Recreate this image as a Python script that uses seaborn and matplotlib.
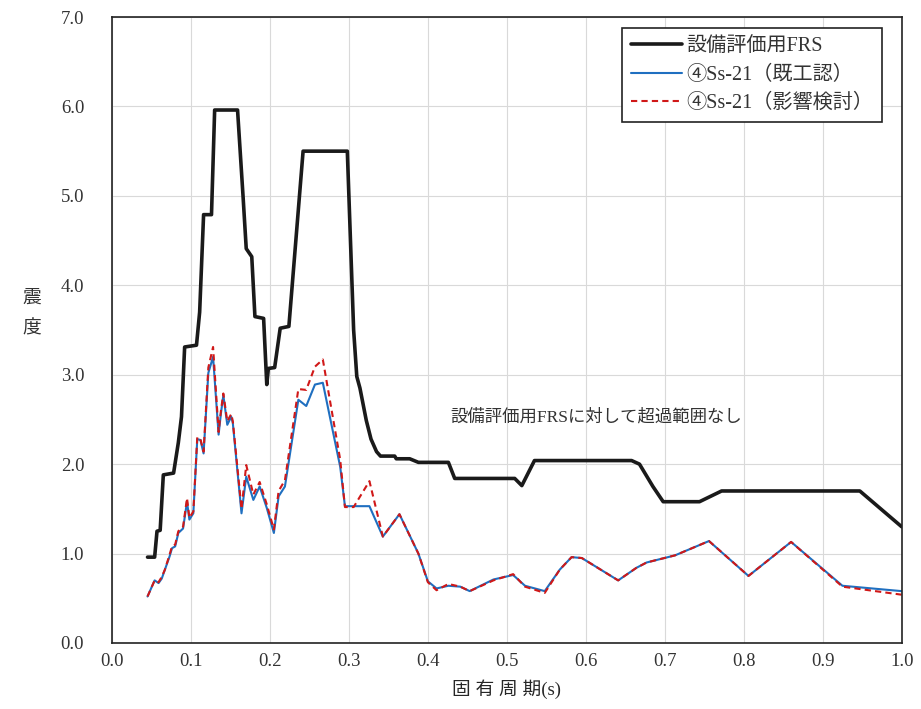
import matplotlib
matplotlib.use("Agg")
import matplotlib.pyplot as plt
import seaborn as sns

# 設備評価用FRS
PERIOD_FRS = [0.045, 0.054, 0.057, 0.061, 0.065, 0.078, 0.084, 0.088, 0.092, 0.107,
              0.111, 0.116, 0.126, 0.130, 0.159, 0.166, 0.170, 0.177, 0.181, 0.192,
              0.196, 0.198, 0.206, 0.213, 0.224, 0.242, 0.298, 0.306, 0.310, 0.314,
              0.322, 0.328, 0.335, 0.340, 0.358, 0.360, 0.377, 0.388, 0.426, 0.434,
              0.510, 0.519, 0.535, 0.658, 0.668, 0.685, 0.698, 0.744, 0.772, 0.947,
              1.000]
FRS = [0.96, 0.96, 1.25, 1.26, 1.88, 1.90, 2.24, 2.53, 3.31, 3.33,
       3.70, 4.79, 4.79, 5.96, 5.96, 4.99, 4.41, 4.32, 3.65, 3.63,
       2.89, 3.07, 3.08, 3.52, 3.54, 5.50, 5.50, 3.50, 2.98, 2.85,
       2.49, 2.28, 2.14, 2.09, 2.09, 2.06, 2.06, 2.02, 2.02, 1.84,
       1.84, 1.76, 2.04, 2.04, 2.00, 1.75, 1.58, 1.58, 1.70, 1.70,
       1.30]

# ④Ss-21 spectra
PERIOD_SS = [0.045, 0.054, 0.059, 0.063, 0.067, 0.073, 0.076, 0.080, 0.084, 0.090,
             0.095, 0.098, 0.103, 0.108, 0.112, 0.116, 0.122, 0.128, 0.135, 0.138,
             0.141, 0.146, 0.151, 0.153, 0.164, 0.170, 0.179, 0.187, 0.196, 0.205,
             0.211, 0.219, 0.236, 0.246, 0.257, 0.267, 0.289, 0.295, 0.306, 0.326,
             0.343, 0.364, 0.388, 0.400, 0.411, 0.426, 0.441, 0.453, 0.483, 0.508,
             0.523, 0.548, 0.567, 0.582, 0.595, 0.641, 0.664, 0.677, 0.713, 0.756,
             0.806, 0.860, 0.925, 1.000]
SS_KIKOUNIN = [0.52, 0.70, 0.67, 0.72, 0.82, 0.97, 1.06, 1.08, 1.23, 1.28,
               1.58, 1.38, 1.45, 2.28, 2.27, 2.12, 3.02, 3.20, 2.33, 2.57,
               2.77, 2.44, 2.53, 2.46, 1.45, 1.86, 1.60, 1.75, 1.51, 1.23,
               1.64, 1.75, 2.72, 2.65, 2.89, 2.91, 1.97, 1.53, 1.53, 1.53,
               1.19, 1.44, 1.00, 0.69, 0.61, 0.64, 0.63, 0.58, 0.71, 0.76,
               0.64, 0.58, 0.82, 0.96, 0.95, 0.70, 0.84, 0.90, 0.98, 1.14,
               0.75, 1.13, 0.64, 0.58]
SS_EIKYOU = [0.52, 0.70, 0.68, 0.74, 0.82, 0.99, 1.08, 1.10, 1.25, 1.30,
             1.62, 1.40, 1.47, 2.30, 2.28, 2.14, 3.08, 3.31, 2.36, 2.60,
             2.79, 2.48, 2.56, 2.48, 1.50, 1.99, 1.66, 1.80, 1.55, 1.27,
             1.70, 1.82, 2.84, 2.83, 3.09, 3.17, 2.05, 1.52, 1.52, 1.81,
             1.19, 1.44, 1.00, 0.68, 0.59, 0.66, 0.63, 0.58, 0.70, 0.77,
             0.63, 0.56, 0.82, 0.96, 0.95, 0.70, 0.84, 0.90, 0.98, 1.14,
             0.75, 1.13, 0.63, 0.54]

LABELS = ["設備評価用FRS", "④Ss-21（既工認）", "④Ss-21（影響検討）"]
X_TICKS = [i / 10 for i in range(11)]
Y_TICKS = [float(i) for i in range(8)]

sns.set_theme(style="whitegrid")
plt.rcParams["font.family"] = ["Liberation Serif", "Noto Sans CJK JP", "DejaVu Sans"]
plt.rcParams.update({
    "axes.edgecolor": "#222222", "grid.color": "#d9d9d9", "grid.linewidth": 0.8,
    "text.color": "#333333", "xtick.color": "#333333", "ytick.color": "#333333",
})

fig = plt.figure(figsize=(9.21, 7.09), dpi=100)
ax = fig.add_axes([0.1216, 0.0931, 0.8574, 0.8829])

sns.lineplot(x=PERIOD_FRS, y=FRS, ax=ax, color="#1a1a1a", linewidth=2.6,
             sort=False, estimator=None, label=LABELS[0])
sns.lineplot(x=PERIOD_SS, y=SS_KIKOUNIN, ax=ax, color="#1f6fc0", linewidth=1.5,
             sort=False, estimator=None, label=LABELS[1])
sns.lineplot(x=PERIOD_SS, y=SS_EIKYOU, ax=ax, color="#d01818", linewidth=1.5,
             linestyle=(0, (3, 2)), sort=False, estimator=None, label=LABELS[2])

ax.set_xlim(0, 1.0)
ax.set_ylim(0, 7.0)
ax.set_xticks(X_TICKS)
ax.set_yticks(Y_TICKS)
ax.set_xticklabels([f"{v:.1f}" for v in X_TICKS], fontsize=13.5)
ax.set_yticklabels([f"{v:.1f}" for v in Y_TICKS], fontsize=13.5)
ax.tick_params(axis="x", length=0, pad=7)
ax.tick_params(axis="y", length=0, pad=20)
for s in ax.spines.values():
    s.set_linewidth(1.2)

ax.set_xlabel("固 有 周 期(s)", fontsize=13.5, labelpad=7)
ax.set_ylabel("")
fig.text(0.034, 0.558, "震\n\n度", fontsize=13.5, ha="center", va="center", linespacing=0.85)

ax.text(0.428, 2.52, "設備評価用FRSに対して超過範囲なし", fontsize=12.5, va="center")

leg = ax.legend(loc="upper right", bbox_to_anchor=(0.975, 0.982), borderaxespad=0,
                fontsize=14.5, frameon=True, fancybox=False, framealpha=1,
                edgecolor="#222222", handlelength=2.5, handletextpad=0.2,
                labelspacing=0.45, borderpad=0.45)
leg.get_frame().set_linewidth(1.2)

fig.savefig("out.png", dpi=100, facecolor="white")
